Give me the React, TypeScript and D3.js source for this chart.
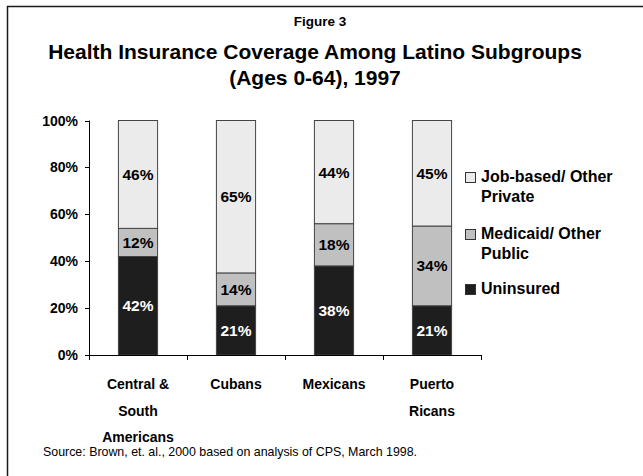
import React from "react";
import * as d3 from "d3";

const categories = [["Central &", "South", "Americans"], ["Cubans"], ["Mexicans"], ["Puerto", "Ricans"]];
const uninsured = [42, 21, 38, 21];
const medicaid = [12, 14, 18, 34];
const jobBased = [46, 65, 44, 45];
const yTicks = [0, 20, 40, 60, 80, 100];
const seriesNames = [["Job-based/ Other", "Private"], ["Medicaid/ Other", "Public"], ["Uninsured"]];
const colors = ["#ebebeb", "#c0c0c0", "#1e1e1e"];

const W = 643, H = 476;
const FONT = "'Liberation Sans', Arial, sans-serif";

export default function App() {
  const x = d3.scaleBand<number>().domain(d3.range(categories.length)).range([89, 481]).paddingInner(0.59).paddingOuter(0.295);
  const y = d3.scaleLinear().domain([0, 100]).range([355, 120.5]);
  const series = [uninsured, medicaid, jobBased];
  const fills = [colors[2], colors[1], colors[0]];
  const textFill = ["#fff", "#000", "#000"];
  const step = (481 - 89) / categories.length;

  return (
    <svg width={W} height={H} style={{ position: "absolute", left: 0, top: 0, fontFamily: FONT }}>
      <rect x={0} y={0} width={W} height={H} fill="#fff" />
      <path d={`M7.5,${H} V6.5 H${W}`} fill="none" stroke="#1a1a1a" strokeWidth={1.5} />
      <text x={320} y={26} textAnchor="middle" fontSize={13.5} fontWeight="bold">Figure 3</text>
      <text x={315} y={59} textAnchor="middle" fontSize={21} fontWeight="bold">Health Insurance Coverage Among Latino Subgroups</text>
      <text x={315} y={85} textAnchor="middle" fontSize={21} fontWeight="bold">(Ages 0-64), 1997</text>

      {categories.map((_, i) => {
        let base = 0;
        return (
          <g key={i}>
            {series.map((s, k) => {
              const v = s[i];
              const y0 = y(base), y1 = y(base + v);
              base += v;
              return (
                <g key={k}>
                  <rect x={x(i)! + 0.5} y={y1} width={x.bandwidth() - 1} height={y0 - y1} fill={fills[k]} stroke="#444" strokeWidth={1} />
                  <text x={x(i)! + x.bandwidth() / 2} y={(y0 + y1) / 2 + 5.5} textAnchor="middle" fontSize={15.5} fontWeight="bold" fill={textFill[k]}>{v}%</text>
                </g>
              );
            })}
          </g>
        );
      })}

      <line x1={89.5} x2={89.5} y1={y(100)} y2={y(0) + 5} stroke="#000" />
      <line x1={89} x2={481} y1={y(0) + 0.5} y2={y(0) + 0.5} stroke="#000" />
      {yTicks.map((t) => (
        <g key={t}>
          <line x1={85} x2={89.5} y1={Math.round(y(t)) + 0.5} y2={Math.round(y(t)) + 0.5} stroke="#000" />
          <text x={78} y={y(t) + 5} textAnchor="end" fontSize={14} fontWeight="bold">{t}%</text>
        </g>
      ))}
      {d3.range(1, categories.length + 1).map((j) => (
        <line key={j} x1={Math.round(89 + j * step) + 0.5} x2={Math.round(89 + j * step) + 0.5} y1={y(0)} y2={y(0) + 5} stroke="#000" />
      ))}
      {categories.map((lines, i) => (
        <text key={i} textAnchor="middle" fontSize={14} fontWeight="bold">
          {lines.map((l, j) => (
            <tspan key={j} x={x(i)! + x.bandwidth() / 2} y={389 + j * 26.5}>{l}</tspan>
          ))}
        </text>
      ))}

      {seriesNames.map((lines, k) => {
        const top = [172, 229, 284][k];
        return (
          <g key={k}>
            <rect x={465.5} y={top + 0.5} width={10} height={10} fill={colors[k]} stroke="#333" />
            <text fontSize={16} fontWeight="bold">
              {lines.map((l, j) => (
                <tspan key={j} x={481} y={top + 10 + j * 19.5}>{l}</tspan>
              ))}
            </text>
          </g>
        );
      })}

      <text x={43} y={456} fontSize={12.4}>Source:  Brown, et. al., 2000 based on analysis of CPS, March 1998.</text>
    </svg>
  );
}
